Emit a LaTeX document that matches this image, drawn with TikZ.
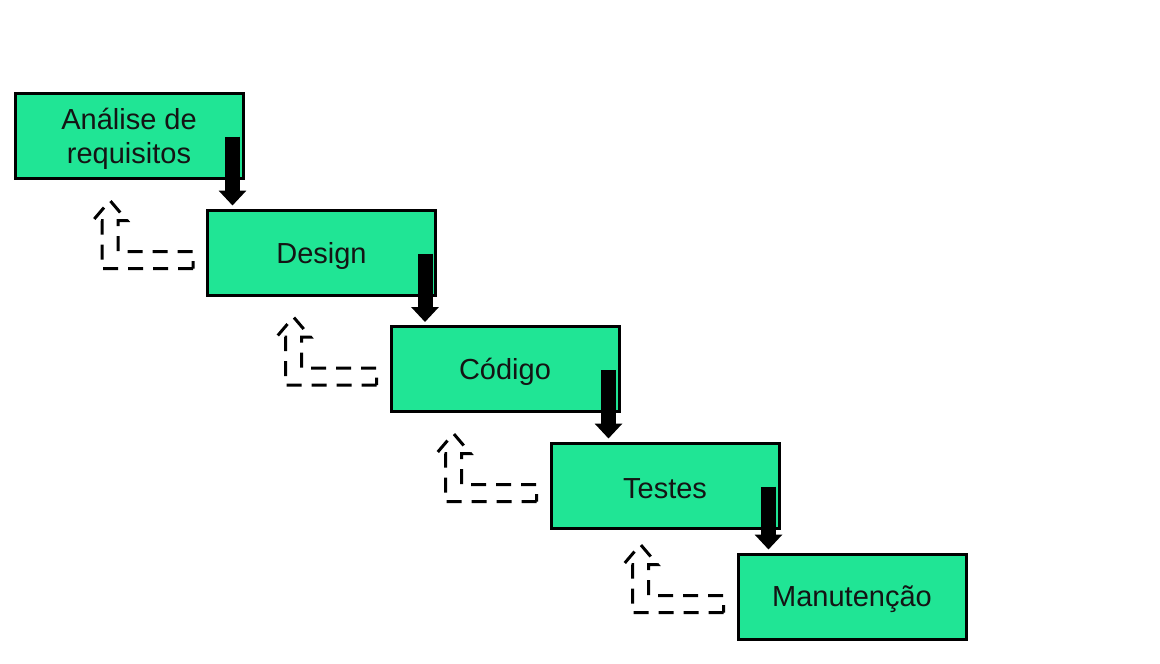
\documentclass[tikz,border=0pt]{standalone}
\usepackage{fontspec}
\setmainfont{Liberation Sans}
\usetikzlibrary{arrows.meta,calc}
\definecolor{boxgreen}{RGB}{32,229,149}
\definecolor{textdark}{RGB}{20,20,20}
\begin{document}
\begin{tikzpicture}[x=1pt,y=-1pt,
  stage/.style={draw=black, line width=3pt, fill=boxgreen, minimum width=228pt, minimum height=85pt, inner sep=0pt},
  stagetext/.style={font=\fontsize{29}{34}\selectfont, text=textdark, align=center, yshift=-3pt},
  flow/.style={line width=15pt, -{Triangle[width=27pt,length=15pt]}},
  back/.style={draw=black, line width=3pt, dash pattern=on 15pt off 10pt, line join=miter}]
\fill[white] (0,0) rectangle (1160,664);
\useasboundingbox (0,0) rectangle (1160,664);
\node[stage, label={[stagetext]center:Análise de\\requisitos}] (a) at (129,135.5) {};
\node[stage, label={[stagetext]center:Design}] (b) at (321.5,252.5) {};
\node[stage, label={[stagetext]center:Código}] (c) at (505,369) {};
\node[stage, label={[stagetext]center:Testes}] (d) at (665,485.5) {};
\node[stage, label={[stagetext]center:Manutenção}] (e) at (852,596.5) {};
\foreach \p/\q in {a/b,b/c,c/d,d/e} {
  \coordinate (s) at ($(\p.north east)+(-12,45)$);
  \draw[flow] (s) -- ($(s |- \q.north)+(0,-3)$);
}
\foreach \n in {b,c,d,e} {
  \draw[back] ($(\n.south west)+(-13,-28)$) -- ($(\n.south west)+(-104,-28)$) -- ($(\n.south west)+(-104,-76)$) -- ($(\n.south west)+(-113,-76)$) -- ($(\n.south west)+(-96,-96)$) -- ($(\n.south west)+(-79,-76)$) -- ($(\n.south west)+(-88,-76)$) -- ($(\n.south west)+(-88,-45)$) -- ($(\n.south west)+(-13,-45)$) -- cycle;
}
\end{tikzpicture}
\end{document}
